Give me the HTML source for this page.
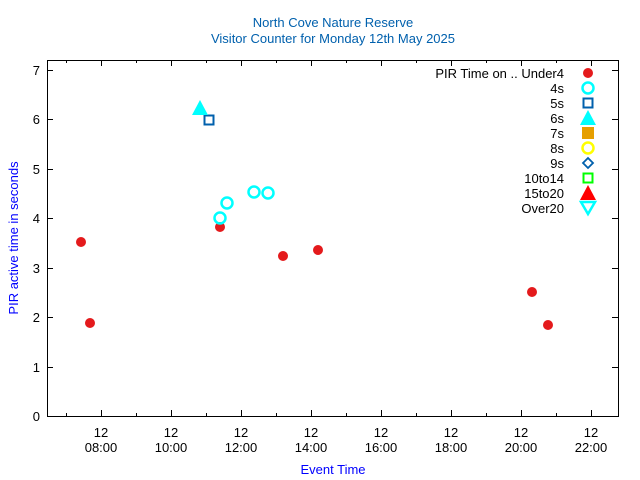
<!DOCTYPE html>
<html><head><style>
html,body{margin:0;padding:0;background:#fff;}
svg{display:block;font-family:"Liberation Sans",sans-serif;}
</style></head><body>
<svg width="640" height="480" viewBox="0 0 640 480" xmlns="http://www.w3.org/2000/svg">
<rect width="640" height="480" fill="#fff"/>
<text x="333" y="27" font-size="13" fill="#0060ad" text-anchor="middle">North Cove Nature Reserve</text>
<text x="333" y="43" font-size="13" fill="#0060ad" text-anchor="middle">Visitor Counter for Monday 12th May 2025</text>
<rect x="47.5" y="60.5" width="571" height="356" fill="none" stroke="#000" stroke-width="1"/>
<g stroke="#000" stroke-width="1">
<!-- y ticks -->
<path d="M47 416.5h6M47 367.5h6M47 317.5h6M47 268.5h6M47 218.5h6M47 169.5h6M47 119.5h6M47 70.5h6
M618 416.5h-6M618 367.5h-6M618 317.5h-6M618 268.5h-6M618 218.5h-6M618 169.5h-6M618 119.5h-6M618 70.5h-6"/>
<!-- x major -->
<path d="M101.5 416v-6M171.5 416v-6M241.5 416v-6M311.5 416v-6M381.5 416v-6M451.5 416v-6M521.5 416v-6M591.5 416v-6
M101.5 60v6M171.5 60v6M241.5 60v6M311.5 60v6M381.5 60v6M451.5 60v6M521.5 60v6M591.5 60v6"/>
<!-- x minor -->
<path d="M66.5 416v-3M136.5 416v-3M206.5 416v-3M276.5 416v-3M346.5 416v-3M416.5 416v-3M486.5 416v-3M556.5 416v-3
M66.5 60v3M136.5 60v3M206.5 60v3M276.5 60v3M346.5 60v3M416.5 60v3M486.5 60v3M556.5 60v3"/>
</g>
<g font-size="13" fill="#000" text-anchor="end">
<text x="40" y="421">0</text><text x="40" y="372">1</text><text x="40" y="322">2</text><text x="40" y="273">3</text>
<text x="40" y="223">4</text><text x="40" y="174">5</text><text x="40" y="124">6</text><text x="40" y="75">7</text>
</g>
<g font-size="13" fill="#000" text-anchor="middle">
<text x="101" y="437">12</text><text x="101" y="452">08:00</text>
<text x="171" y="437">12</text><text x="171" y="452">10:00</text>
<text x="241" y="437">12</text><text x="241" y="452">12:00</text>
<text x="311" y="437">12</text><text x="311" y="452">14:00</text>
<text x="381" y="437">12</text><text x="381" y="452">16:00</text>
<text x="451" y="437">12</text><text x="451" y="452">18:00</text>
<text x="521" y="437">12</text><text x="521" y="452">20:00</text>
<text x="591" y="437">12</text><text x="591" y="452">22:00</text>
</g>
<text x="333" y="474" font-size="13" fill="#0000ff" text-anchor="middle">Event Time</text>
<text transform="translate(18,238) rotate(-90)" font-size="13" fill="#0000ff" text-anchor="middle">PIR active time in seconds</text>
<!-- data -->
<g fill="#e41a1c">
<circle cx="81" cy="242" r="5"/><circle cx="90" cy="323" r="5"/><circle cx="220" cy="227" r="5"/>
<circle cx="283" cy="256" r="5"/><circle cx="318" cy="250" r="5"/><circle cx="532" cy="292" r="5"/><circle cx="548" cy="325" r="5"/>
</g>
<g fill="none" stroke="#00ffff" stroke-width="2.5">
<circle cx="220" cy="218" r="5.5"/><circle cx="227" cy="203" r="5.5"/><circle cx="254" cy="192" r="5.5"/><circle cx="268" cy="193" r="5.5"/>
</g>
<rect x="204.5" y="115.5" width="9" height="9" fill="none" stroke="#0060ad" stroke-width="2"/>
<polygon points="200,100 208,115 192,115" fill="#00ffff"/>
<!-- legend -->
<g font-size="13" fill="#000" text-anchor="end">
<text x="564" y="78">PIR Time on .. Under4</text>
<text x="564" y="93">4s</text><text x="564" y="108">5s</text><text x="564" y="123">6s</text>
<text x="564" y="138">7s</text><text x="564" y="153">8s</text><text x="564" y="168">9s</text>
<text x="564" y="183">10to14</text><text x="564" y="198">15to20</text><text x="564" y="213">Over20</text>
</g>
<circle cx="588" cy="73" r="5" fill="#e41a1c"/>
<circle cx="588" cy="88" r="5.5" fill="none" stroke="#00ffff" stroke-width="2.5"/>
<rect x="583.5" y="98.5" width="9" height="9" fill="none" stroke="#0060ad" stroke-width="2"/>
<polygon points="588,110 596,125 580,125" fill="#00ffff"/>
<rect x="582" y="127" width="12" height="12" fill="#e69f00"/>
<circle cx="588" cy="148" r="5.5" fill="none" stroke="#ffff00" stroke-width="2.5"/>
<polygon points="588,158 593,163 588,168 583,163" fill="none" stroke="#0060ad" stroke-width="1.8"/>
<rect x="583.5" y="173.5" width="9" height="9" fill="none" stroke="#00ff00" stroke-width="2"/>
<polygon points="588,185 596,200 580,200" fill="#ff0000"/>
<polygon points="581,202 595,202 588,214" fill="none" stroke="#00ffff" stroke-width="2.5"/>
</svg>
</body></html>
